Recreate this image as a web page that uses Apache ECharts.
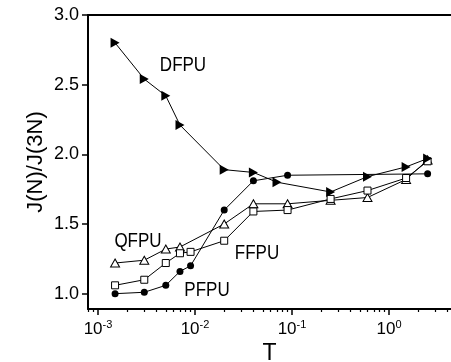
<!DOCTYPE html>
<html>
<head>
<meta charset="utf-8">
<script src="https://cdn.jsdelivr.net/npm/echarts@6/dist/echarts.min.js"></script>
<style>
  html, body { margin: 0; padding: 0; background: #fff; }
  #main { width: 451px; height: 362px; }
</style>
</head>
<body>
<div id="main"></div>
<script>
// temperatures T (log axis) and J(N)/J(3N)
var tDFPU = [0.0015, 0.003, 0.005, 0.007, 0.02, 0.04, 0.07, 0.25, 0.6, 1.5, 2.5];
var vDFPU = [2.80, 2.54, 2.42, 2.21, 1.89, 1.87, 1.80, 1.73, 1.84, 1.91, 1.97];

var tPFPU = [0.0015, 0.003, 0.005, 0.007, 0.009, 0.02, 0.04, 0.09, 2.5];
var vPFPU = [1.00, 1.01, 1.06, 1.16, 1.20, 1.60, 1.81, 1.85, 1.86];

var tFFPU = [0.0015, 0.003, 0.005, 0.007, 0.009, 0.02, 0.04, 0.09, 0.25, 0.6, 1.5, 2.5];
var vFFPU = [1.06, 1.10, 1.22, 1.29, 1.30, 1.38, 1.59, 1.60, 1.68, 1.74, 1.83, 1.95];

var tQFPU = [0.0015, 0.003, 0.005, 0.007, 0.02, 0.04, 0.09, 0.25, 0.6, 1.5, 2.5];
var vQFPU = [1.22, 1.24, 1.32, 1.335, 1.50, 1.645, 1.645, 1.67, 1.69, 1.82, 1.96];

var xDecades = [-3, -2, -1, 0];
var yTicks = [1.0, 1.5, 2.0, 2.5, 3.0];

var FONT = 'Liberation Sans, Arial, Helvetica, sans-serif';

function pairs(ts, vs) {
    var out = [];
    for (var i = 0; i < ts.length; i++) {
        out.push([Math.log10(ts[i]), vs[i]]);
    }
    return out;
}

// minor ticks 2..9 x 10^n (log positions)
var xMinor = [];
[-4, -3, -2, -1, 0].forEach(function (d) {
    for (var k = 2; k <= 9; k++) {
        var p = d + Math.log10(k);
        if (p > -3.103 && p < 0.639) xMinor.push(p);
    }
});

var chart = echarts.init(document.getElementById('main'));

var lineStyle = { color: '#000', width: 1 };

var option = {
    animation: false,
    backgroundColor: '#fff',
    grid: { left: 88, right: 0, top: 15, bottom: 53, containLabel: false, outerBoundsMode: 'none' },
    xAxis: [{
        type: 'value',
        min: -3.103,
        max: 0.639,
        position: 'bottom',
        axisLine: { onZero: false, lineStyle: { color: '#000', width: 2 } },
        axisTick: { customValues: xDecades, length: 6, lineStyle: { color: '#000', width: 1.5 } },
        axisLabel: {
            customValues: xDecades,
            margin: 10,
            color: '#000',
            formatter: function (v) {
                return '{b|10}{s|' + Math.round(v) + '}';
            },
            rich: {
                b: { fontSize: 17, fontFamily: FONT, color: '#000' },
                s: { fontSize: 11, fontFamily: FONT, color: '#000', padding: [0, 0, 9, 0] }
            }
        },
        splitLine: { show: false },
        name: 'T',
        nameLocation: 'middle',
        nameGap: 30,
        nameTextStyle: { fontSize: 23, fontFamily: FONT, color: '#000' }
    }, {
        type: 'value',
        min: -3.103,
        max: 0.639,
        position: 'bottom',
        axisLine: { show: false, onZero: false },
        axisTick: { customValues: xMinor, length: 3, lineStyle: { color: '#000', width: 1.2 } },
        axisLabel: { show: false },
        splitLine: { show: false }
    }, {
        type: 'value',
        min: -3.103,
        max: 0.639,
        position: 'top',
        axisLine: { onZero: false, lineStyle: { color: '#000', width: 2 } },
        axisTick: { show: false },
        axisLabel: { show: false },
        splitLine: { show: false }
    }],
    yAxis: {
        type: 'value',
        min: 0.89,
        max: 3.0,
        position: 'left',
        axisLine: { show: true, onZero: false, lineStyle: { color: '#000', width: 2 } },
        axisTick: { show: true, customValues: yTicks, length: 6, lineStyle: { color: '#000', width: 1.5 } },
        axisLabel: {
            customValues: yTicks,
            margin: 9,
            fontSize: 18,
            fontFamily: FONT,
            color: '#000',
            formatter: function (v) { return v.toFixed(1); }
        },
        splitLine: { show: false }
    },
    graphic: [
        { type: 'text', x: 36, y: 162, rotation: Math.PI / 2, style: { text: 'J(N)/J(3N)', font: '22px ' + FONT, fill: '#000', align: 'center', verticalAlign: 'middle' } },
        { type: 'text', x: 183, y: 65, scaleY: 1.22, style: { text: 'DFPU', font: '17px ' + FONT, fill: '#000', align: 'center', verticalAlign: 'middle' } },
        { type: 'text', x: 138, y: 241, scaleY: 1.22, style: { text: 'QFPU', font: '17px ' + FONT, fill: '#000', align: 'center', verticalAlign: 'middle' } },
        { type: 'text', x: 257, y: 253, scaleY: 1.22, style: { text: 'FFPU', font: '17px ' + FONT, fill: '#000', align: 'center', verticalAlign: 'middle' } },
        { type: 'text', x: 207, y: 290, scaleY: 1.22, style: { text: 'PFPU', font: '17px ' + FONT, fill: '#000', align: 'center', verticalAlign: 'middle' } }
    ],
    series: [{
        name: 'QFPU',
        type: 'line',
        data: pairs(tQFPU, vQFPU),
        symbol: 'triangle',
        symbolSize: [9, 8],
        lineStyle: lineStyle,
        itemStyle: { color: '#fff', borderColor: '#000', borderWidth: 1 },
        z: 2
    }, {
        name: 'FFPU',
        type: 'line',
        data: pairs(tFFPU, vFFPU),
        symbol: 'rect',
        symbolSize: 7,
        lineStyle: lineStyle,
        itemStyle: { color: '#fff', borderColor: '#000', borderWidth: 1 },
        z: 3
    }, {
        name: 'PFPU',
        type: 'line',
        data: pairs(tPFPU, vPFPU),
        symbol: 'circle',
        symbolSize: 7,
        lineStyle: lineStyle,
        itemStyle: { color: '#000' },
        z: 4
    }, {
        name: 'DFPU',
        type: 'line',
        data: pairs(tDFPU, vDFPU),
        symbol: 'triangle',
        symbolSize: [10, 9],
        symbolRotate: -90,
        lineStyle: lineStyle,
        itemStyle: { color: '#000' },
        z: 5
    }]
};

chart.setOption(option);
</script>
</body>
</html>
